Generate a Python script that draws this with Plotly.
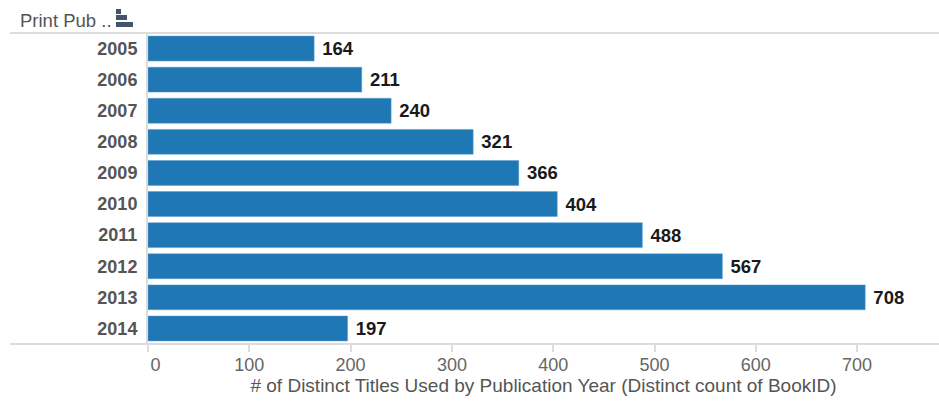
import plotly.graph_objects as go

years = ["2005", "2006", "2007", "2008", "2009", "2010", "2011", "2012", "2013", "2014"]
titles = [164, 211, 240, 321, 366, 404, 488, 567, 708, 197]
x_ticks = [0, 100, 200, 300, 400, 500, 600, 700]
x_tick_text = ["\u00a0\u00a0\u00a00", "100", "200", "300", "400", "500", "600", "700"]

W, H = 939, 402
L, R, T, B = 148, 0, 33, 58
PW = W - L - R
PH = H - T - B
FONT = "Liberation Sans, Arial, sans-serif"
GRID = "#dcdcdc"

def px(x):
    return (x - L) / PW

def py(y):
    return 1 - (y - T) / PH

fig = go.Figure(go.Bar(
    x=titles, y=years, orientation="h",
    marker=dict(color="#1f77b4", line=dict(color="#5a9fd0", width=0.5)),
    text=["\u00a0" + str(v) for v in titles], textposition="outside", cliponaxis=False,
    textfont=dict(family=FONT, size=18.5, color="#1a1a1a", weight="bold"),
    width=0.8,
))

shapes = [
    dict(type="line", xref="paper", yref="paper", x0=px(10), x1=1, y0=1, y1=1,
         line=dict(color=GRID, width=2)),
    dict(type="line", xref="paper", yref="paper", x0=px(10), x1=1, y0=0, y1=0,
         line=dict(color=GRID, width=2)),
]
for x0, x1, y0, y1 in [(116, 121, 9, 14), (116, 127, 15, 20), (116, 133, 22, 27)]:
    shapes.append(dict(type="rect", xref="paper", yref="paper", x0=px(x0), x1=px(x1),
                       y0=py(y0), y1=py(y1), fillcolor="#44546a", line=dict(width=0)))

fig.update_layout(
    width=W, height=H, autosize=False,
    margin=dict(l=L, r=R, t=T, b=B),
    paper_bgcolor="white", plot_bgcolor="white",
    showlegend=False, shapes=shapes,
    xaxis=dict(
        range=[0, PW / 1.013], tickmode="array", tickvals=x_ticks, ticktext=x_tick_text,
        showgrid=False, zeroline=False, ticks="outside", ticklen=7, tickwidth=1.5, tickcolor=GRID,
        ticklabelstandoff=-3,
        tickfont=dict(family=FONT, size=18, color="#666666"),
        title=dict(text="\u00a0\u00a0# of Distinct Titles Used by Publication Year (Distinct count of BookID)",
                   font=dict(family=FONT, size=19, color="#555555"), standoff=4),
        showline=False,
    ),
    yaxis=dict(
        autorange="reversed", type="category", showgrid=False, zeroline=False,
        showline=True, linecolor=GRID, linewidth=2, ticks="outside", ticklen=5,
        tickcolor="rgba(0,0,0,0)",
        tickfont=dict(family=FONT, size=18, color="#555555", weight="bold"),
    ),
    annotations=[dict(text="Print Pub ..", xref="paper", yref="paper", x=px(18), y=py(21),
                      xanchor="left", yanchor="middle", showarrow=False,
                      font=dict(family=FONT, size=18.5, color="#555555"))],
)
fig.write_html("out.html", config=dict(displayModeBar=False),
               post_script="document.body.style.margin='0';")
